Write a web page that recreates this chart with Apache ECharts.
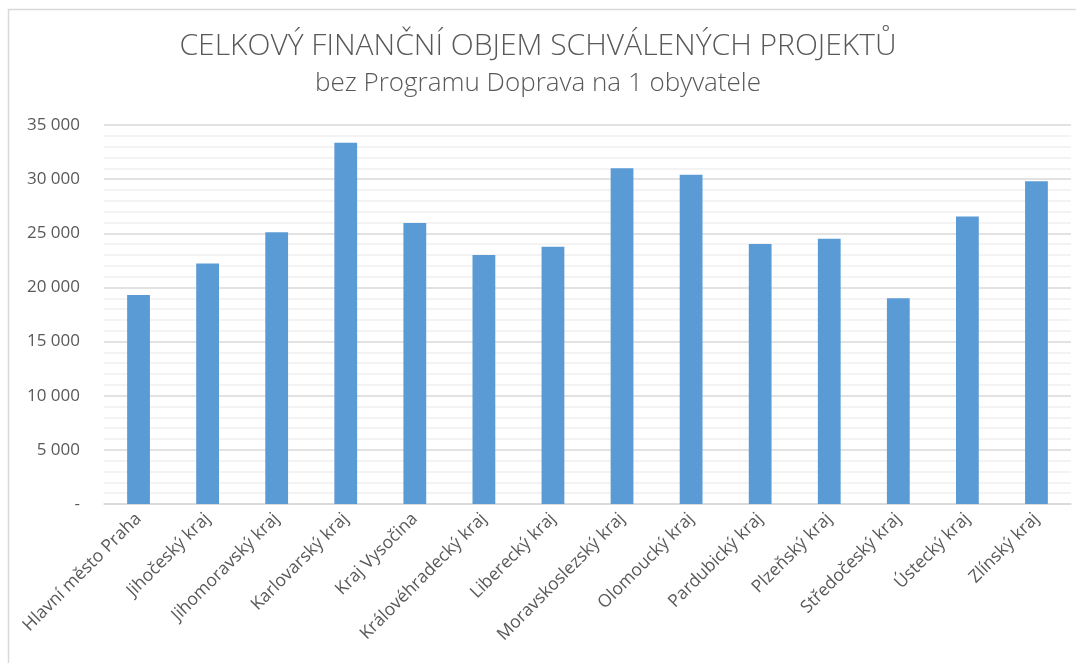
<!DOCTYPE html>
<html>
<head>
<meta charset="utf-8">
<script src="https://cdn.jsdelivr.net/npm/echarts@6/dist/echarts.min.js"></script>
<style>
  html, body { margin: 0; padding: 0; background: #fff; }
  #chart { width: 1076px; height: 663px; }
</style>
</head>
<body>
<div id="chart"></div>
<script>
const titleText = "CELKOVÝ FINANČNÍ OBJEM SCHVÁLENÝCH PROJEKTŮ";
const subtitleText = "bez Programu Doprava na 1 obyvatele";

const kraje = [
  "Hlavní město Praha", "Jihočeský kraj", "Jihomoravský kraj", "Karlovarský kraj",
  "Kraj Vysočina", "Královéhradecký kraj", "Liberecký kraj", "Moravskoslezský kraj",
  "Olomoucký kraj", "Pardubický kraj", "Plzeňský kraj", "Středočeský kraj",
  "Ústecký kraj", "Zlínský kraj"
];
const objemNaObyvatele = [
  19300, 22200, 25100, 33350, 25950, 23000, 23750,
  31000, 30400, 24000, 24500, 19000, 26550, 29800
];

const font = "'Open Sans', 'Noto Sans', sans-serif";
const textColor = "#595959";

function formatTick(v) {
  if (v === 0) return "-";
  return String(v).replace(/\B(?=(\d{3})+(?!\d))/g, " ");
}

const chart = echarts.init(document.getElementById("chart"));
chart.setOption({
  animation: false,
  title: {
    text: titleText,
    subtext: subtitleText,
    left: "center",
    top: 26,
    itemGap: 10,
    textStyle: { fontFamily: font, fontWeight: 300, fontSize: 30, color: textColor },
    subtextStyle: { fontFamily: font, fontWeight: 300, fontSize: 26, color: textColor }
  },
  graphic: [{
    type: "rect",
    shape: { x: 8.5, y: 9.5, width: 1100, height: 700 },
    style: { fill: "none", stroke: "#d9d9d9", lineWidth: 1.5 },
    silent: true
  }],
  grid: { left: 104, right: 5, top: 125, bottom: 159 },
  xAxis: {
    type: "category",
    data: kraje,
    axisLine: { lineStyle: { color: "#d9d9d9", width: 1.5 } },
    axisTick: { show: false },
    axisLabel: {
      interval: 0,
      rotate: 45,
      margin: 12,
      fontFamily: font,
      fontSize: 17.5,
      color: textColor
    }
  },
  yAxis: {
    type: "value",
    min: 0,
    max: 35000,
    interval: 5000,
    axisLine: { show: false },
    axisTick: { show: false },
    axisLabel: {
      formatter: formatTick,
      margin: 24,
      fontFamily: font,
      fontSize: 17,
      color: textColor
    },
    splitLine: { lineStyle: { color: "#d9d9d9", width: 1.5 } },
    minorTick: { show: false, splitNumber: 5 },
    minorSplitLine: { show: true, lineStyle: { color: "#f0f0f0", width: 1.5 } }
  },
  series: [{
    type: "bar",
    data: objemNaObyvatele,
    barWidth: "33%",
    itemStyle: { color: "#5B9BD5" }
  }]
});
</script>
</body>
</html>
